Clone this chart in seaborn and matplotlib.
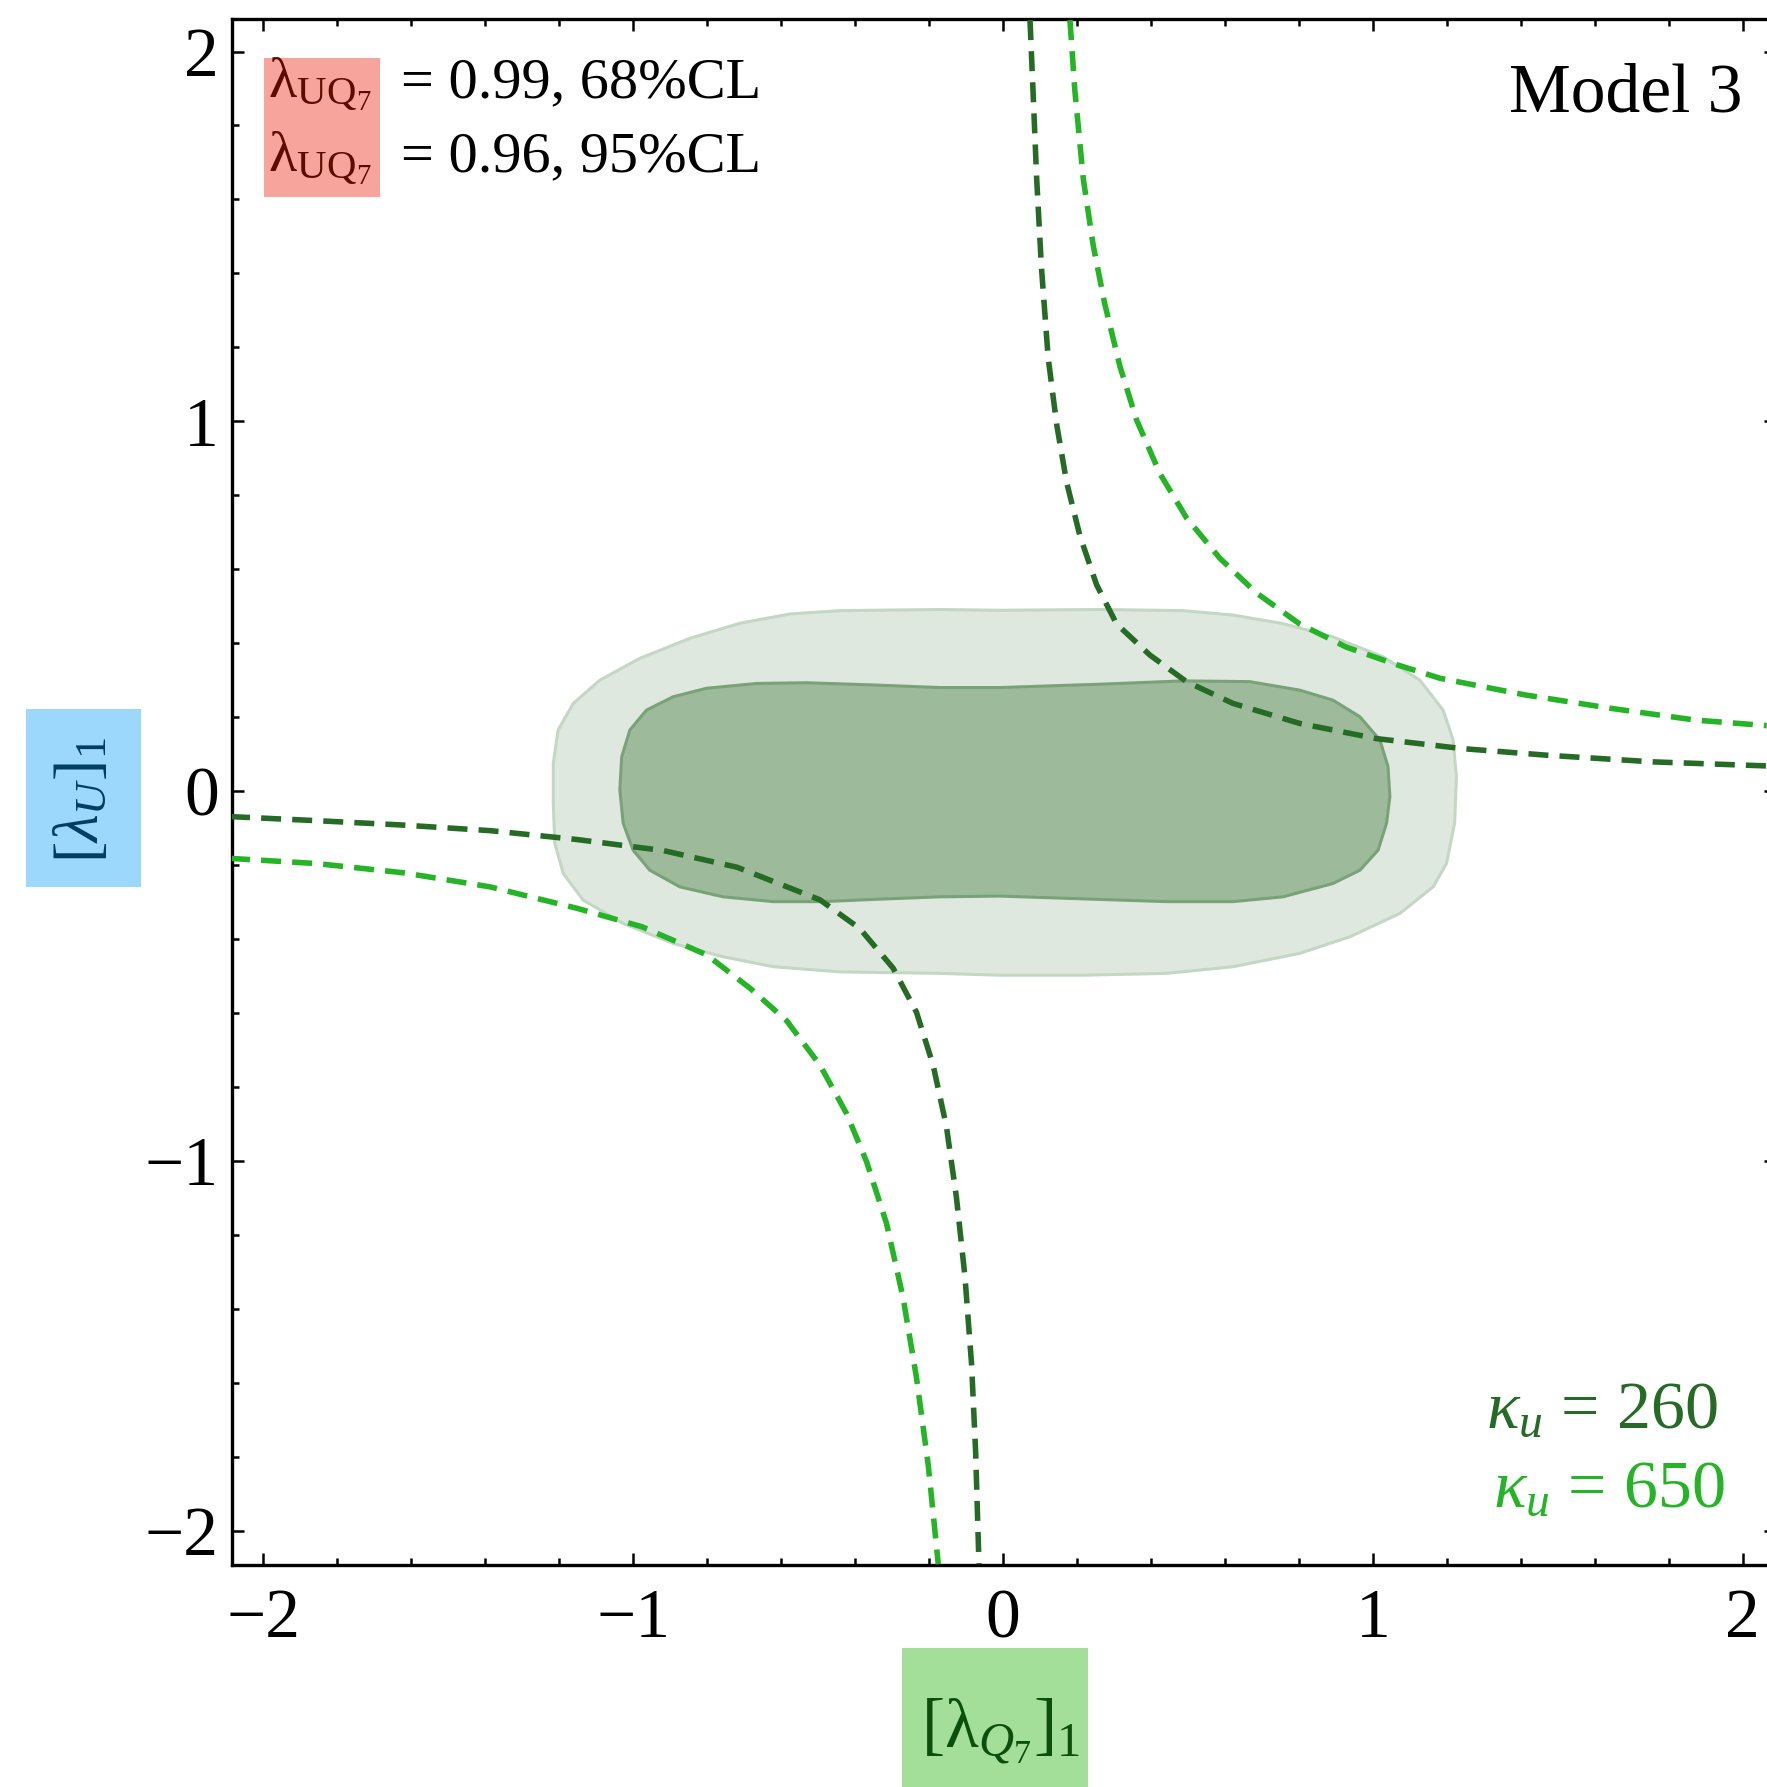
import matplotlib
matplotlib.use('Agg')
import matplotlib.pyplot as plt
import seaborn as sns
from matplotlib.patches import Rectangle
from matplotlib.ticker import MultipleLocator

# boundary of the 95% CL region
cl95_x = [1.127, 1.028, 0.892, 0.757, 0.622, 0.487, 0.262, -0.009, -0.171, -0.441, -0.576, -0.711,
          -0.847, -0.982, -1.090, -1.162, -1.203, -1.216, -1.216, -1.212, -1.189, -1.135, -1.027,
          -0.892, -0.757, -0.621, -0.441, -0.171, -0.009, 0.217, 0.442, 0.622, 0.802, 0.938, 1.073,
          1.163, 1.199, 1.221, 1.226, 1.217, 1.190]
cl95_y = [0.300, 0.363, 0.417, 0.453, 0.476, 0.488, 0.491, 0.489, 0.491, 0.488, 0.479, 0.454,
          0.413, 0.359, 0.300, 0.237, 0.165, 0.075, -0.033, -0.141, -0.223, -0.295, -0.358,
          -0.412, -0.448, -0.475, -0.489, -0.493, -0.498, -0.498, -0.493, -0.475, -0.439, -0.394,
          -0.331, -0.259, -0.196, -0.087, 0.039, 0.138, 0.219]

# boundary of the 68% CL region
cl68_x = [1.019, 0.965, 0.892, 0.802, 0.667, 0.487, 0.262, -0.009, -0.171, -0.351, -0.531, -0.666,
          -0.802, -0.892, -0.964, -1.009, -1.031, -1.036, -1.027, -1.000, -0.955, -0.874, -0.757,
          -0.621, -0.486, -0.351, -0.171, -0.009, 0.262, 0.442, 0.622, 0.757, 0.892, 0.965, 1.014,
          1.037, 1.046, 1.041]
cl68_y = [0.138, 0.201, 0.246, 0.273, 0.296, 0.298, 0.289, 0.280, 0.280, 0.287, 0.293, 0.291,
          0.278, 0.255, 0.219, 0.165, 0.093, 0.003, -0.087, -0.160, -0.214, -0.259, -0.286,
          -0.299, -0.299, -0.293, -0.286, -0.284, -0.293, -0.299, -0.299, -0.286, -0.250, -0.214,
          -0.160, -0.087, -0.015, 0.066]

# kappa_u = 260 (dark green dashed), upper and lower branches
k260_up_x = [0.073, 0.081, 0.091, 0.104, 0.122, 0.145, 0.172, 0.208, 0.253, 0.307, 0.397, 0.496,
             0.622, 0.802, 1.009, 1.240, 1.470, 1.757, 2.065]
k260_up_y = [2.085, 1.897, 1.656, 1.415, 1.173, 0.992, 0.835, 0.690, 0.558, 0.452, 0.368, 0.296,
             0.237, 0.183, 0.142, 0.115, 0.097, 0.079, 0.068]
k260_lo_x = [-2.090, -1.856, -1.621, -1.387, -1.152, -0.918, -0.719, -0.630, -0.495, -0.387, -0.297,
             -0.234, -0.189, -0.153, -0.126, -0.103, -0.085, -0.074, -0.065]
k260_lo_y = [-0.069, -0.080, -0.092, -0.107, -0.131, -0.161, -0.206, -0.241, -0.294, -0.372, -0.479,
             -0.598, -0.741, -0.907, -1.098, -1.312, -1.550, -1.788, -2.091]

# kappa_u = 650 (bright green dashed)
k650_up_x = [0.181, 0.194, 0.217, 0.244, 0.275, 0.316, 0.361, 0.424, 0.496, 0.586, 0.685, 0.802,
             0.929, 1.064, 1.182, 1.412, 1.642, 1.872, 2.065]
k650_up_y = [2.085, 1.897, 1.656, 1.475, 1.318, 1.149, 1.004, 0.859, 0.739, 0.630, 0.536, 0.452,
             0.389, 0.342, 0.305, 0.260, 0.224, 0.192, 0.177]
k650_lo_x = [-2.090, -1.856, -1.621, -1.387, -1.152, -0.976, -0.801, -0.683, -0.585, -0.495, -0.423,
             -0.369, -0.315, -0.270, -0.234, -0.202, -0.175]
k650_lo_y = [-0.182, -0.196, -0.221, -0.259, -0.317, -0.367, -0.443, -0.534, -0.621, -0.741, -0.872,
             -1.002, -1.169, -1.371, -1.586, -1.824, -2.091]

c_dark = '#256b25'
c_bright = '#25b425'

sns.set_style('ticks')
plt.rcParams['font.family'] = ['Liberation Serif', 'DejaVu Serif']
plt.rcParams['mathtext.fontset'] = 'custom'
plt.rcParams['mathtext.rm'] = 'Liberation Serif'
plt.rcParams['mathtext.it'] = 'Liberation Serif:italic'
plt.rcParams['mathtext.bf'] = 'Liberation Serif:bold'
for k in ['text.color', 'axes.labelcolor', 'xtick.color', 'ytick.color']:
    plt.rcParams[k] = 'black'

W, H = 1767, 1787
fig = plt.figure(figsize=(W / 100, H / 100), dpi=100)
ax = fig.add_axes([231.5 / W, 1 - 1565 / H, (1776 - 231.5) / W, (1565 - 19) / H])


def fx(px):
    return px / W


def fy(py):
    return 1 - py / H


ax.fill(cl95_x, cl95_y, facecolor='#dfe8df', edgecolor='#c4d7c4', lw=2.2, zorder=1)
ax.fill(cl68_x, cl68_y, facecolor='#9dbb9b', edgecolor='#7aa278', lw=2.2, zorder=1.5)

dash = (0, (3.6, 2.0))
for xs, ys, col in [(k260_up_x, k260_up_y, c_dark), (k260_lo_x, k260_lo_y, c_dark),
                    (k650_up_x, k650_up_y, c_bright), (k650_lo_x, k650_lo_y, c_bright)]:
    sns.lineplot(x=xs, y=ys, sort=False, estimator=None, color=col, lw=4.0,
                 linestyle=dash, ax=ax, zorder=3)

ax.set_xlim(-2.086, 2.09)
ax.set_ylim(-2.093, 2.088)
ax.set_xlabel('')
ax.set_ylabel('')
ax.xaxis.set_major_locator(MultipleLocator(1))
ax.yaxis.set_major_locator(MultipleLocator(1))
ax.xaxis.set_minor_locator(MultipleLocator(0.2))
ax.yaxis.set_minor_locator(MultipleLocator(0.2))
ax.tick_params(which='both', direction='in', top=True, right=True, width=1.8, color='black')
ax.tick_params(which='major', length=8.6, labelsize=50, labelcolor='black')
ax.tick_params(which='minor', length=5)
ax.tick_params(axis='x', which='major', pad=17)
ax.tick_params(axis='y', which='major', pad=9)
for s in ax.spines.values():
    s.set_linewidth(2.4)
    s.set_color('black')

# CL legend box
fig.add_artist(Rectangle((fx(264), fy(197)), (380 - 264) / W, (197 - 58) / H,
                         transform=fig.transFigure, facecolor='#f7a59c', edgecolor='none'))
lam = r'$\mathrm{\lambda}_{\mathrm{UQ}_{7}}$'
fig.text(fx(268), fy(97), lam, color='#5c0b00', fontsize=42, va='baseline')
fig.text(fx(268), fy(171), lam, color='#5c0b00', fontsize=42, va='baseline')
fig.text(fx(401), fy(97), '= 0.99, 68%CL', fontsize=42, va='baseline')
fig.text(fx(401), fy(171), '= 0.96, 95%CL', fontsize=42, va='baseline')

fig.text(fx(1742), fy(112), 'Model 3', fontsize=50, ha='right', va='baseline')

fig.text(fx(1718), fy(1428), r'$\kappa_u$ = 260', color=c_dark, fontsize=49,
         ha='right', va='baseline')
fig.text(fx(1725), fy(1507), r'$\kappa_u$ = 650', color=c_bright, fontsize=49,
         ha='right', va='baseline')

# axis labels with coloured boxes
fig.add_artist(Rectangle((fx(902), 0), (1088 - 902) / W, (H - 1648) / H,
                         transform=fig.transFigure, facecolor='#a3df99', edgecolor='none'))
fig.text(fx(1001), fy(1747), r'$[\mathrm{\lambda}_{Q_7}]_1$', color='#0c4f0c', fontsize=50,
         ha='center', va='baseline')
fig.add_artist(Rectangle((fx(26), fy(887)), (141 - 26) / W, (887 - 709) / H,
                         transform=fig.transFigure, facecolor='#9bd8fc', edgecolor='none'))
fig.text(fx(83), fy(800), r'$[\lambda_U]_1$', color='#003e60', fontsize=46,
         ha='center', va='center', rotation=90)

fig.savefig('out.png', dpi=100)
